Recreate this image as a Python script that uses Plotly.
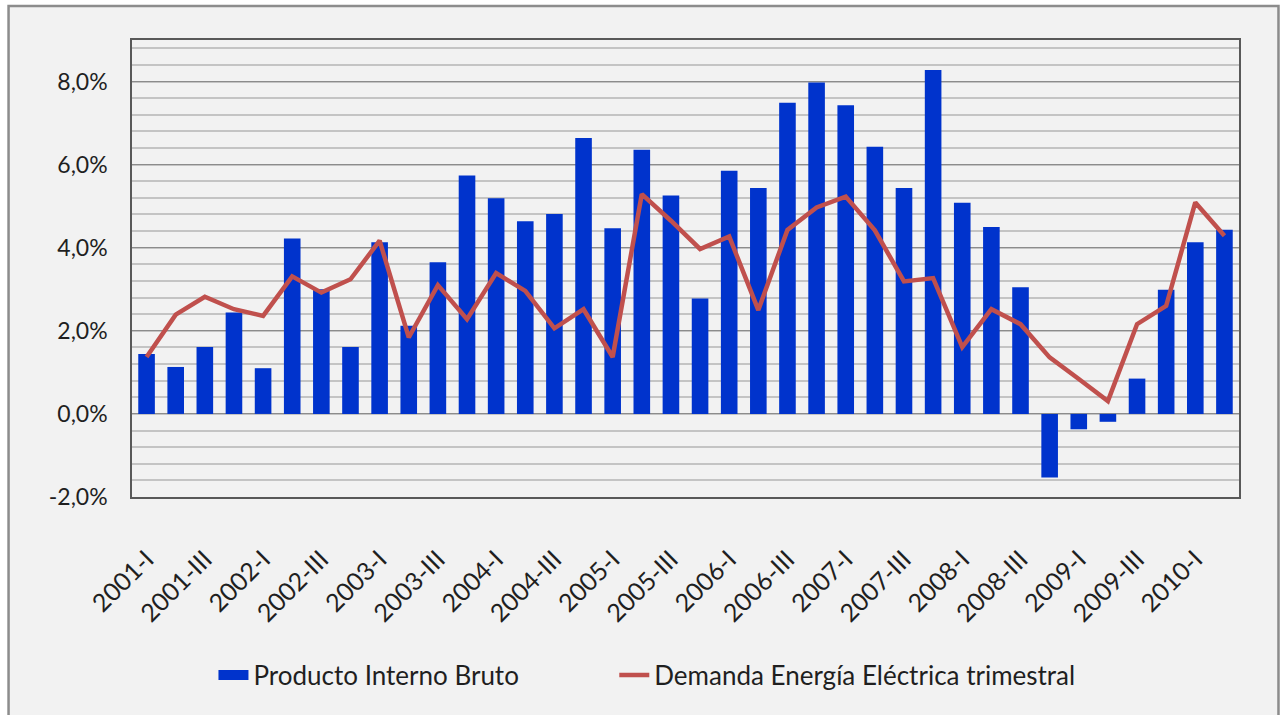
import plotly.graph_objects as go

years = [2001, 2002, 2003, 2004, 2005, 2006, 2007, 2008, 2009, 2010]
quarter_names = ["I", "II", "III", "IV"]
quarters = [f"{y}-{q}" for y in years for q in quarter_names][:38]

pib = [1.44, 1.13, 1.61, 2.44, 1.10, 4.22, 3.00, 1.61, 4.13, 2.12, 3.65, 5.74,
       5.19, 4.64, 4.81, 6.64, 4.47, 6.36, 5.26, 2.78, 5.85, 5.44, 7.49, 7.98,
       7.43, 6.43, 5.44, 8.28, 5.08, 4.50, 3.05, -1.53, -0.37, -0.19, 0.85, 2.99,
       4.13, 4.43]

energia = [1.37, 2.39, 2.82, 2.52, 2.36, 3.31, 2.92, 3.24, 4.17, 1.84, 3.10, 2.28,
           3.39, 2.96, 2.06, 2.52, 1.37, 5.29, 4.65, 3.97, 4.27, 2.50, 4.43, 4.97,
           5.23, 4.42, 3.19, 3.27, 1.61, 2.52, 2.16, 1.36, 0.84, 0.31, 2.16, 2.60,
           5.09, 4.29]

x_tick_labels = quarters[::2]
y_tick_values = [-2, 0, 2, 4, 6, 8]
y_tick_labels = ["-2,0%", "0,0%", "2,0%", "4,0%", "6,0%", "8,0%"]

FONT = "Lato"
BLUE = "#0033cc"
RED = "#c0504d"

fig = go.Figure()
fig.add_trace(go.Bar(x=quarters, y=pib, name="Producto Interno Bruto",
                     marker=dict(color=BLUE, line=dict(width=0)),
                     showlegend=False))
fig.add_trace(go.Scatter(x=[None], y=[None], mode="lines",
                         name="Producto Interno Bruto", legend="legend",
                         line=dict(color=BLUE, width=18), showlegend=True))
fig.add_trace(go.Scatter(x=quarters, y=energia, mode="lines",
                         name="Demanda Energía Eléctrica trimestral",
                         legend="legend2",
                         line=dict(color=RED, width=4.5)))

L, R, T, B = 131.5, 1239, 40, 497
W, H = 1280, 715
pw, ph = R - L, B - T


def px2x(x):
    return (x - L) / pw


def px2y(y):
    return (B - y) / ph


fig.add_shape(type="rect", xref="paper", yref="paper", layer="below",
              x0=px2x(8), x1=px2x(1278.5), y0=px2y(740), y1=px2y(6),
              line=dict(color="#8c8c8c", width=2.5), fillcolor="#f2f2f2")

legend_style = dict(orientation="h", xanchor="left", yanchor="middle",
                    y=px2y(675), bgcolor="rgba(0,0,0,0)",
                    font=dict(family=FONT, size=26, color="#1f1f1f"))

fig.update_layout(
    width=W, height=H,
    margin=dict(l=L, r=W - R, t=T, b=H - B, pad=0),
    paper_bgcolor="white",
    plot_bgcolor="#f2f2f2",
    separators=",.",
    bargap=0.43,
    font=dict(family=FONT, size=23, color="#1f1f1f"),
    showlegend=True,
    legend=dict(x=px2x(213), **legend_style),
    legend2=dict(x=px2x(614), **legend_style),
    xaxis=dict(type="category", categoryorder="array", categoryarray=quarters,
               tickmode="array", tickvals=x_tick_labels, ticktext=x_tick_labels,
               tickangle=-45, showgrid=False, ticks="",
               showline=True, linecolor="#595959", linewidth=1.5, mirror=True,
               ticklabelstandoff=36,
               tickfont=dict(family=FONT, size=25, color="#1f1f1f")),
    yaxis=dict(range=[-2, 9], tickmode="array", tickvals=y_tick_values,
               ticktext=y_tick_labels,
               showgrid=True, gridcolor="#8c8c8c", gridwidth=1.3,
               zeroline=True, zerolinecolor="#8c8c8c", zerolinewidth=1.3,
               minor=dict(tickmode="linear", tick0=0, dtick=0.4, showgrid=True,
                          gridcolor="#c4c4c4", gridwidth=1.5),
               showline=True, linecolor="#595959", linewidth=1.5, mirror=True,
               ticks="", ticklabelstandoff=18,
               tickfont=dict(family=FONT, size=23, color="#1f1f1f")),
)

fig.write_html("out.html", config={"displayModeBar": False},
               post_script="document.body.style.margin='0px';")
